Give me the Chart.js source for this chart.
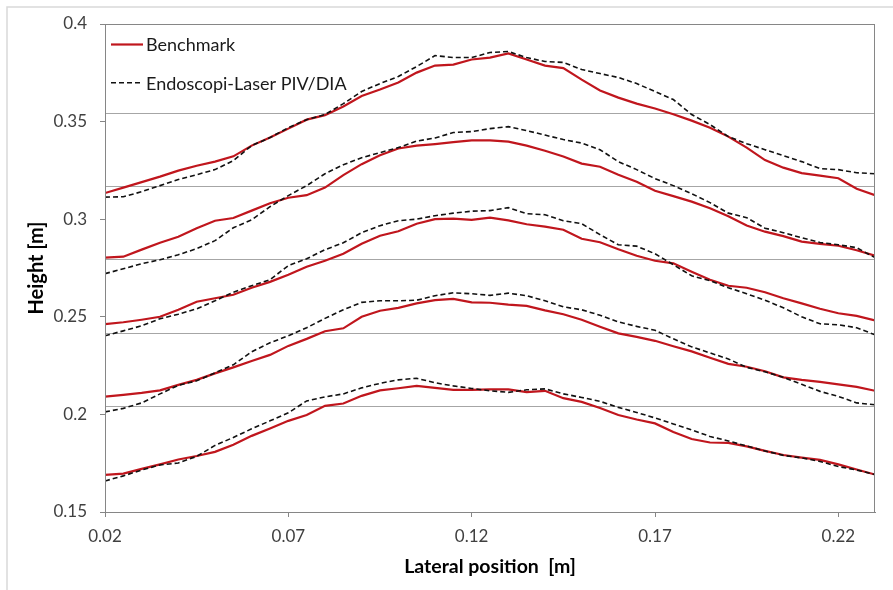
<!DOCTYPE html>
<html>
<head>
<meta charset="utf-8">
<script src="https://cdn.jsdelivr.net/npm/chart.js@4/dist/chart.umd.min.js"></script>
<style>
  html, body { margin: 0; padding: 0; background: #fff; }
  canvas { display: block; }
</style>
</head>
<body>
<canvas id="profileChart" width="893" height="590"></canvas>
<script>
// lateral positions [m]
const xPositions = [0.02, 0.025, 0.03, 0.035, 0.04, 0.045, 0.05, 0.055, 0.06, 0.065,
  0.07, 0.075, 0.08, 0.085, 0.09, 0.095, 0.1, 0.105, 0.11, 0.115,
  0.12, 0.125, 0.13, 0.135, 0.14, 0.145, 0.15, 0.155, 0.16, 0.165,
  0.17, 0.175, 0.18, 0.185, 0.19, 0.195, 0.2, 0.205, 0.21, 0.215,
  0.22, 0.225, 0.23];

// Benchmark surface heights [m], top profile first
const benchmark1 = [0.3134, 0.3162, 0.3190, 0.3218, 0.3249, 0.3274, 0.3295, 0.3322, 0.3377, 0.3418,
  0.3464, 0.3510, 0.3533, 0.3577, 0.3631, 0.3664, 0.3700, 0.3751, 0.3787, 0.3792,
  0.3818, 0.3828, 0.3849, 0.3818, 0.3787, 0.3774, 0.3715, 0.3659, 0.3623, 0.3592,
  0.3567, 0.3538, 0.3505, 0.3469, 0.3423, 0.3367, 0.3303, 0.3264, 0.3236, 0.3223,
  0.3210, 0.3156, 0.3123];
const benchmark2 = [0.2803, 0.2808, 0.2844, 0.2879, 0.2910, 0.2954, 0.2992, 0.3006, 0.3044, 0.3082,
  0.3110, 0.3123, 0.3162, 0.3226, 0.3282, 0.3328, 0.3362, 0.3377, 0.3385, 0.3395,
  0.3404, 0.3404, 0.3397, 0.3377, 0.3351, 0.3321, 0.3285, 0.3269, 0.3228, 0.3192,
  0.3146, 0.3118, 0.3090, 0.3056, 0.3015, 0.2968, 0.2936, 0.2913, 0.2885, 0.2874,
  0.2864, 0.2841, 0.2813];
const benchmark3 = [0.2462, 0.2472, 0.2485, 0.2500, 0.2536, 0.2577, 0.2595, 0.2613, 0.2649, 0.2679,
  0.2715, 0.2756, 0.2787, 0.2823, 0.2874, 0.2915, 0.2938, 0.2977, 0.3000, 0.3003,
  0.2997, 0.3008, 0.2994, 0.2974, 0.2962, 0.2946, 0.2900, 0.2882, 0.2846, 0.2813,
  0.2787, 0.2774, 0.2731, 0.2690, 0.2659, 0.2649, 0.2626, 0.2595, 0.2569, 0.2541,
  0.2518, 0.2505, 0.2481];
const benchmark4 = [0.2091, 0.2100, 0.2110, 0.2123, 0.2151, 0.2177, 0.2210, 0.2241, 0.2274, 0.2305,
  0.2351, 0.2387, 0.2426, 0.2441, 0.2500, 0.2531, 0.2546, 0.2569, 0.2585, 0.2592,
  0.2574, 0.2572, 0.2562, 0.2556, 0.2533, 0.2513, 0.2485, 0.2449, 0.2415, 0.2397,
  0.2377, 0.2349, 0.2323, 0.2290, 0.2259, 0.2244, 0.2221, 0.2190, 0.2177, 0.2167,
  0.2154, 0.2141, 0.2121];
const benchmark5 = [0.1690, 0.1697, 0.1721, 0.1744, 0.1769, 0.1787, 0.1808, 0.1844, 0.1890, 0.1928,
  0.1967, 0.1997, 0.2044, 0.2056, 0.2095, 0.2123, 0.2134, 0.2146, 0.2136, 0.2126,
  0.2126, 0.2128, 0.2128, 0.2114, 0.2121, 0.2083, 0.2064, 0.2033, 0.1997, 0.1974,
  0.1954, 0.1910, 0.1874, 0.1856, 0.1854, 0.1836, 0.1813, 0.1792, 0.1779, 0.1767,
  0.1744, 0.1718, 0.1692];

// Endoscopi-Laser PIV/DIA measured heights [m]
const piv1 = [0.3113, 0.3115, 0.3141, 0.3172, 0.3203, 0.3228, 0.3254, 0.3300, 0.3377, 0.3418,
  0.3469, 0.3510, 0.3536, 0.3592, 0.3654, 0.3695, 0.3731, 0.3782, 0.3838, 0.3828,
  0.3828, 0.3854, 0.3859, 0.3828, 0.3808, 0.3803, 0.3767, 0.3746, 0.3726, 0.3695,
  0.3654, 0.3613, 0.3536, 0.3485, 0.3423, 0.3387, 0.3356, 0.3326, 0.3295, 0.3259,
  0.3254, 0.3238, 0.3233];
const piv2 = [0.2721, 0.2746, 0.2772, 0.2792, 0.2818, 0.2849, 0.2890, 0.2956, 0.2997, 0.3064,
  0.3121, 0.3172, 0.3233, 0.3279, 0.3315, 0.3341, 0.3367, 0.3400, 0.3416, 0.3444,
  0.3449, 0.3464, 0.3474, 0.3454, 0.3431, 0.3408, 0.3390, 0.3356, 0.3295, 0.3254,
  0.3208, 0.3172, 0.3131, 0.3085, 0.3031, 0.3008, 0.2954, 0.2931, 0.2905, 0.2881,
  0.2869, 0.2854, 0.2803];
const piv3 = [0.2403, 0.2428, 0.2454, 0.2490, 0.2513, 0.2541, 0.2582, 0.2626, 0.2659, 0.2690,
  0.2762, 0.2797, 0.2844, 0.2879, 0.2931, 0.2967, 0.2992, 0.3000, 0.3018, 0.3031,
  0.3041, 0.3044, 0.3059, 0.3028, 0.3023, 0.2992, 0.2977, 0.2921, 0.2869, 0.2862,
  0.2823, 0.2767, 0.2710, 0.2685, 0.2649, 0.2618, 0.2585, 0.2546, 0.2500, 0.2464,
  0.2459, 0.2444, 0.2408];
const piv4 = [0.2013, 0.2031, 0.2059, 0.2105, 0.2149, 0.2172, 0.2213, 0.2254, 0.2321, 0.2367,
  0.2403, 0.2444, 0.2492, 0.2536, 0.2574, 0.2582, 0.2582, 0.2585, 0.2608, 0.2623,
  0.2618, 0.2610, 0.2621, 0.2608, 0.2582, 0.2551, 0.2536, 0.2508, 0.2474, 0.2451,
  0.2431, 0.2387, 0.2346, 0.2315, 0.2284, 0.2241, 0.2218, 0.2190, 0.2154, 0.2118,
  0.2092, 0.2059, 0.2049];
const piv5 = [0.1659, 0.1685, 0.1715, 0.1741, 0.1751, 0.1785, 0.1841, 0.1882, 0.1926, 0.1967,
  0.2008, 0.2069, 0.2090, 0.2105, 0.2136, 0.2159, 0.2177, 0.2185, 0.2162, 0.2146,
  0.2133, 0.2121, 0.2113, 0.2126, 0.2131, 0.2105, 0.2087, 0.2067, 0.2036, 0.2010,
  0.1982, 0.1951, 0.1921, 0.1887, 0.1864, 0.1838, 0.1813, 0.1790, 0.1777, 0.1759,
  0.1733, 0.1715, 0.1692];

const xTicks = [0.02, 0.07, 0.12, 0.17, 0.22];
const yTicks = [0.15, 0.2, 0.25, 0.3, 0.35, 0.4];
// horizontal gridlines sit off the tick values in the original
const gridLevels = [0.2042, 0.2417, 0.2792, 0.3167, 0.3542];

const benchmarkSeries = [benchmark1, benchmark2, benchmark3, benchmark4, benchmark5];
const pivSeries = [piv1, piv2, piv3, piv4, piv5];

const FONT = 'Lato, "Open Sans", sans-serif';
const RED = '#c0161d';

function toPoints(values) {
    return xPositions.map((x, i) => ({ x: x, y: values[i] }));
}

const datasets = [];
benchmarkSeries.forEach(values => {
    datasets.push({
        label: 'Benchmark',
        data: toPoints(values),
        borderColor: RED,
        borderWidth: 2.2,
        pointRadius: 0,
        tension: 0,
        order: 1
    });
});
pivSeries.forEach(values => {
    datasets.push({
        label: 'Endoscopi-Laser PIV/DIA',
        data: toPoints(values),
        borderColor: '#111',
        borderWidth: 1.6,
        borderDash: [5, 3],
        pointRadius: 0,
        tension: 0,
        order: 0
    });
});

// white page, outer chart border and plot frame
const framePlugin = {
    id: 'frame',
    beforeDraw(chart) {
        const ctx = chart.ctx;
        ctx.save();
        ctx.fillStyle = '#fff';
        ctx.fillRect(0, 0, chart.width, chart.height);
        ctx.strokeStyle = '#d9d9d9';
        ctx.lineWidth = 1.5;
        ctx.strokeRect(7, 7, chart.width + 20, chart.height + 20);
        ctx.restore();
    },
    afterDraw(chart) {
        const a = chart.chartArea;
        const ctx = chart.ctx;
        ctx.save();
        ctx.strokeStyle = '#868686';
        ctx.lineWidth = 1;
        ctx.strokeRect(Math.round(a.left) + 0.5, Math.round(a.top) + 0.5,
            Math.round(a.right - a.left) - 1, Math.round(a.bottom - a.top));
        ctx.restore();
    }
};

// legend drawn inside the plot, one entry per series type
const insideLegend = {
    id: 'insideLegend',
    afterDraw(chart) {
        const a = chart.chartArea;
        const ctx = chart.ctx;
        const seen = [];
        chart.data.datasets.forEach(ds => {
            if (!seen.find(d => d.label === ds.label)) seen.push(ds);
        });
        ctx.save();
        ctx.font = '18px ' + FONT;
        ctx.textBaseline = 'middle';
        seen.forEach((ds, i) => {
            const y = a.top + 20.5 + i * 38.3;
            ctx.strokeStyle = ds.borderColor;
            ctx.lineWidth = ds.borderWidth;
            ctx.setLineDash(ds.borderDash || []);
            ctx.beginPath();
            ctx.moveTo(a.left + 6, y);
            ctx.lineTo(a.left + 38, y);
            ctx.stroke();
            ctx.setLineDash([]);
            ctx.fillStyle = '#1a1a1a';
            ctx.fillText(ds.label, a.left + 41, y + 1);
        });
        ctx.restore();
    }
};

new Chart(document.getElementById('profileChart'), {
    type: 'line',
    data: { datasets: datasets },
    options: {
        responsive: false,
        animation: false,
        devicePixelRatio: 1,
        layout: { padding: { top: 24, right: 18, bottom: 0, left: 0 } },
        plugins: { legend: { display: false }, tooltip: { enabled: false } },
        scales: {
            x: {
                type: 'linear',
                min: 0.02,
                max: 0.23,
                afterBuildTicks: s => { s.ticks = xTicks.map(v => ({ value: v })); },
                afterFit: s => { s.height = 78; },
                grid: { drawOnChartArea: false, color: '#868686', tickLength: 5 },
                border: { color: '#868686' },
                ticks: {
                    color: '#404040',
                    font: { family: FONT, size: 17 },
                    padding: 9,
                    maxRotation: 0,
                    callback: v => String(v)
                },
                title: {
                    display: true,
                    text: 'Lateral position  [m]',
                    color: '#000',
                    font: { family: FONT, size: 19.5, weight: 'bold' },
                    padding: { top: 0, bottom: 12 }
                }
            },
            y: {
                type: 'linear',
                min: 0.15,
                max: 0.4,
                afterBuildTicks: s => { s.ticks = yTicks.map(v => ({ value: v })); },
                afterFit: s => { s.width = 105; },
                grid: { drawOnChartArea: false, color: '#868686', tickLength: 5 },
                border: { color: '#868686' },
                ticks: {
                    color: '#404040',
                    font: { family: FONT, size: 17 },
                    padding: 13,
                    callback: v => String(v)
                },
                title: {
                    display: true,
                    text: 'Height [m]',
                    color: '#000',
                    font: { family: FONT, size: 20, weight: 'bold' },
                    padding: { top: 25, bottom: 0 }
                }
            },
            yGrid: {
                type: 'linear',
                position: 'left',
                min: 0.15,
                max: 0.4,
                afterBuildTicks: s => { s.ticks = gridLevels.map(v => ({ value: v })); },
                afterFit: s => { s.width = 0; },
                grid: { drawTicks: false, color: '#a6a6a6' },
                border: { display: false },
                ticks: { display: false }
            }
        }
    },
    plugins: [framePlugin, insideLegend]
});
</script>
</body>
</html>
